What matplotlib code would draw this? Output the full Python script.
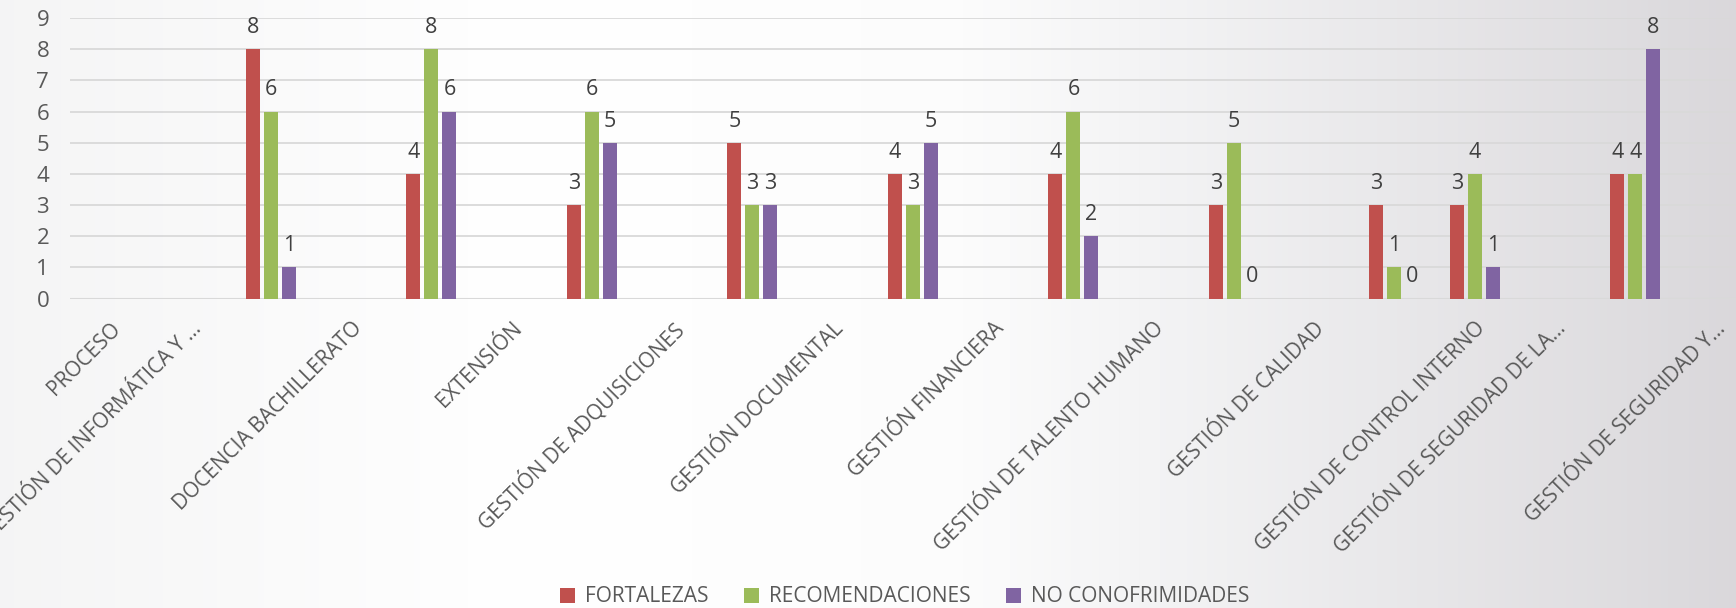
import matplotlib.pyplot as plt
import numpy as np
from matplotlib.colors import LinearSegmentedColormap

plt.rcParams['font.family'] = ['Open Sans', 'DejaVu Sans']

# Datos del gráfico
procesos = ['PROCESO', 'GESTIÓN DE INFORMÁTICA Y ...', 'DOCENCIA BACHILLERATO', 'EXTENSIÓN',
            'GESTIÓN DE ADQUISICIONES', 'GESTIÓN DOCUMENTAL', 'GESTIÓN FINANCIERA',
            'GESTIÓN DE TALENTO HUMANO', 'GESTIÓN DE CALIDAD', 'GESTIÓN DE CONTROL INTERNO',
            'GESTIÓN DE SEGURIDAD DE LA...', 'GESTIÓN DE SEGURIDAD Y...']
fortalezas = [np.nan, np.nan, 8, 4, 3, 5, 4, 4, 3, 3, 3, 4]
recomendaciones = [np.nan, np.nan, 6, 8, 6, 3, 3, 6, 5, 1, 4, 4]
no_conformidades = [np.nan, np.nan, 1, 6, 5, 3, 5, 2, 0, 0, 1, 8]

# posiciones de categoría (el original no está espaciado de forma uniforme)
pos = np.array([-1.5, -1.0, 0, 1, 2, 3, 4, 5, 6, 7, 7.5, 8.5])

series = [('FORTALEZAS', fortalezas, '#C0504D'),
          ('RECOMENDACIONES', recomendaciones, '#9BBB59'),
          ('NO CONOFRIMIDADES', no_conformidades, '#8064A2')]

fig = plt.figure(figsize=(17.36, 6.08), dpi=100)

# fondo degradado
bg = fig.add_axes([0, 0, 1, 1], zorder=-10)
cmap = LinearSegmentedColormap.from_list('bg', [
    (0.0, (0.96, 0.96, 0.962)),
    (0.3, (1.0, 1.0, 1.0)),
    (0.55, (0.99, 0.99, 0.99)),
    (0.68, (0.95, 0.95, 0.955)),
    (1.0, (0.855, 0.847, 0.86))])
bg.imshow(np.linspace(0, 1, 512).reshape(1, -1), aspect='auto', cmap=cmap,
          extent=[0, 1, 0, 1])
bg.axis('off')

ax = fig.add_axes([70 / 1736, 0.509, 1 - 70 / 1736, 0.4614])
ax.set_facecolor('none')

width = 0.087
step = 0.112
for i, (name, vals, color) in enumerate(series):
    xs = pos + (i - 1) * step
    ax.bar(xs, vals, width, color=color, label=name, zorder=3)
    for x, v in zip(xs, vals):
        if np.isnan(v):
            continue
        ax.annotate(f'{int(v)}', (x, v), xytext=(0, 8), textcoords='offset points',
                    ha='center', va='bottom', fontsize=15.5, color='#404040')

ax.set_xlim(-1.252, 9.128)
ax.set_ylim(0, 9)
ax.set_yticks(range(10))
ax.grid(axis='y', color='#D9D9D9', linewidth=1.3, zorder=0)
ax.set_axisbelow(True)
for s in ax.spines.values():
    s.set_visible(False)
ax.axhline(0, color='#D9D9D9', linewidth=1.5, zorder=1)

ax.set_xticks(pos + 0.5)
ax.set_xticklabels(procesos, rotation=45, ha='right', va='top', rotation_mode='anchor',
                   fontsize=15, color='#595959')
ax.tick_params(axis='x', length=0, pad=14)
ax.tick_params(axis='y', length=0, pad=15, labelsize=16, labelcolor='#595959')

ax.legend(loc='center', bbox_to_anchor=(905 / 1736, 11 / 608), bbox_transform=fig.transFigure,
          ncol=3, frameon=False, fontsize=15, labelcolor='#595959',
          handlelength=0.7, handleheight=0.7, handletextpad=0.5, columnspacing=1.7)

plt.savefig('out.png', dpi=100)
